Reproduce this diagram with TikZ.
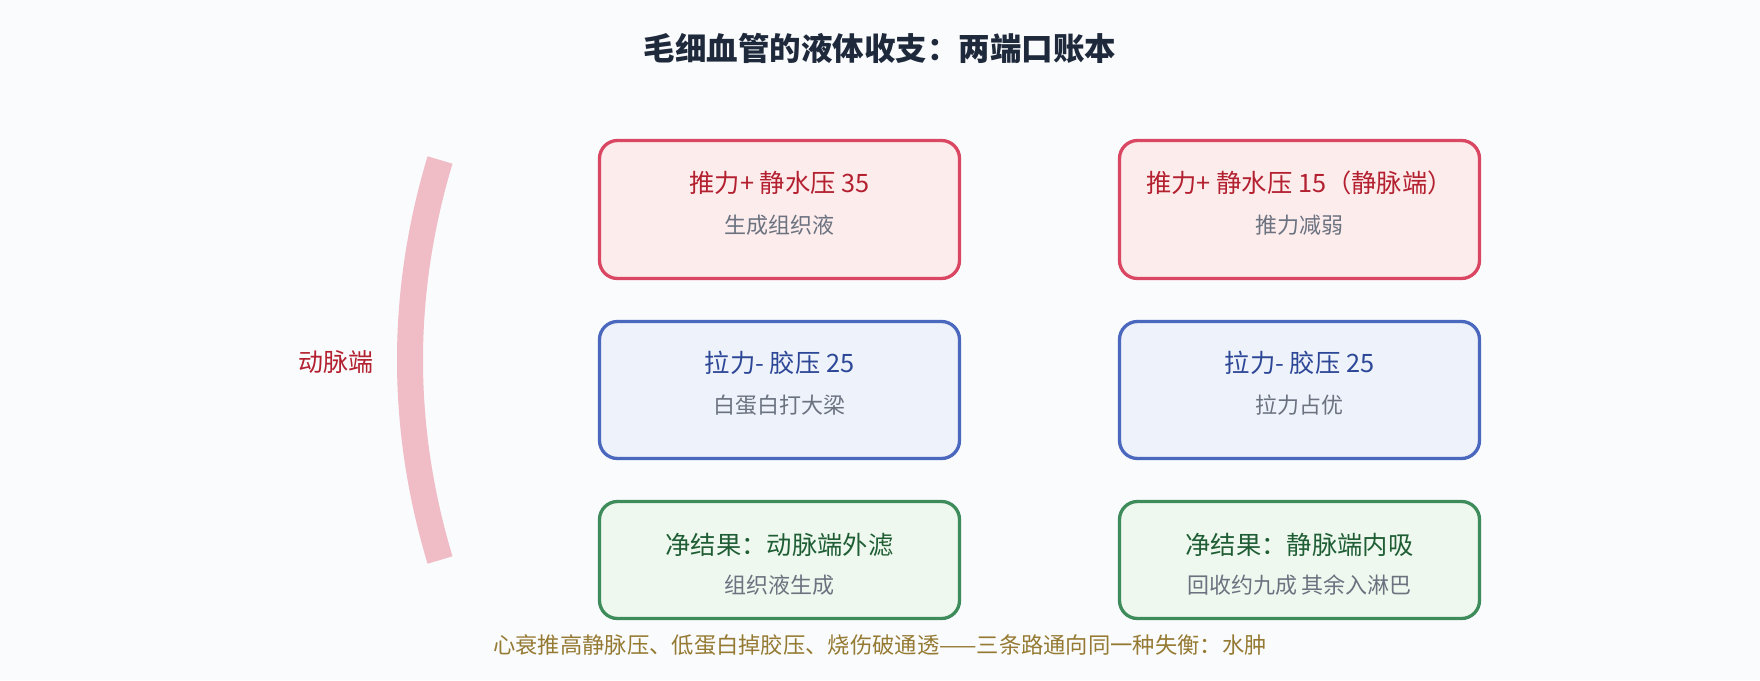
\documentclass[tikz,border=0pt]{standalone}
\usepackage{fontspec}
\setmainfont{Noto Sans CJK SC}
\begin{document}
\begin{tikzpicture}[x=1pt,y=-1pt,
  every node/.style={inner sep=0pt,outer sep=0pt},
  card/.style={draw,line width=3.3pt,rounded corners=18pt,minimum width=360pt,anchor=center},
  redcard/.style={card,draw=cardred,fill=fillred,minimum height=138pt},
  bluecard/.style={card,draw=cardblue,fill=fillblue,minimum height=137pt},
  greencard/.style={card,draw=cardgreen,fill=fillgreen,minimum height=117pt},
  headtxt/.style={font=\fontsize{25.3}{29}\selectfont},
  subtxt/.style={font=\fontsize{22}{26}\selectfont,text=subgray},
]
\definecolor{bg}{HTML}{FAFBFD}
\definecolor{cardred}{HTML}{DA4762}
\definecolor{fillred}{HTML}{FDECEC}
\definecolor{txtred}{HTML}{B3202F}
\definecolor{cardblue}{HTML}{4A68BE}
\definecolor{fillblue}{HTML}{EEF2FA}
\definecolor{txtblue}{HTML}{2D4797}
\definecolor{cardgreen}{HTML}{3E8B5B}
\definecolor{fillgreen}{HTML}{EFF8EE}
\definecolor{txtgreen}{HTML}{1F5E35}
\definecolor{subgray}{HTML}{6B7280}
\definecolor{capgold}{HTML}{957A33}
\definecolor{titlecol}{HTML}{1E293B}
\definecolor{arcpink}{HTML}{F0BCC6}

\fill[bg] (0,0) rectangle (1760,680);
\useasboundingbox (0,0) rectangle (1760,680);

% title
\node[font=\fontsize{31.5}{35}\selectfont\bfseries,text=titlecol] (title) at (880,48) {毛细血管的液体收支：两端口账本};

% arc (arterial end)
\coordinate (arcTop) at (440,160);
\coordinate (arcBot) at (440,560);
\draw[arcpink,line width=26pt,line cap=butt] (arcTop) .. controls (400,293.3) and (400,426.7) .. (arcBot);
\node[font=\fontsize{25}{29}\selectfont,text=txtred] (art) at (336,362) {动脉端};

% left column
\node[redcard] (L1) at (779.5,209.5) {};
\node[headtxt,text=txtred] (L1a) at (779.5,183) {推力+ 静水压 35};
\node[subtxt] (L1b) at (779.5,225) {生成组织液};

\node[bluecard] (L2) at (779.5,390) {};
\node[headtxt,text=txtblue] (L2a) at (779.5,363) {拉力- 胶压 25};
\node[subtxt] (L2b) at (779.5,405) {白蛋白打大梁};

\node[greencard] (L3) at (779.5,560) {};
\node[headtxt,text=txtgreen] (L3a) at (779.5,545) {净结果：动脉端外滤};
\node[subtxt] (L3b) at (779.5,585) {组织液生成};

% right column
\node[redcard] (R1) at (1299.5,209.5) {};
\node[headtxt,text=txtred] (R1a) at (1299.5,183) {推力+ 静水压 15（静脉端）};
\node[subtxt] (R1b) at (1299.5,225) {推力减弱};

\node[bluecard] (R2) at (1299.5,390) {};
\node[headtxt,text=txtblue] (R2a) at (1299.5,363) {拉力- 胶压 25};
\node[subtxt] (R2b) at (1299.5,405) {拉力占优};

\node[greencard] (R3) at (1299.5,560) {};
\node[headtxt,text=txtgreen] (R3a) at (1299.5,545) {净结果：静脉端内吸};
\node[subtxt] (R3b) at (1299.5,585) {回收约九成 其余入淋巴};

% caption
\node[font=\fontsize{22.3}{26}\selectfont,text=capgold] (cap) at (880,645) {心衰推高静脉压、低蛋白掉胶压、烧伤破通透——三条路通向同一种失衡：水肿};
\end{tikzpicture}
\end{document}
